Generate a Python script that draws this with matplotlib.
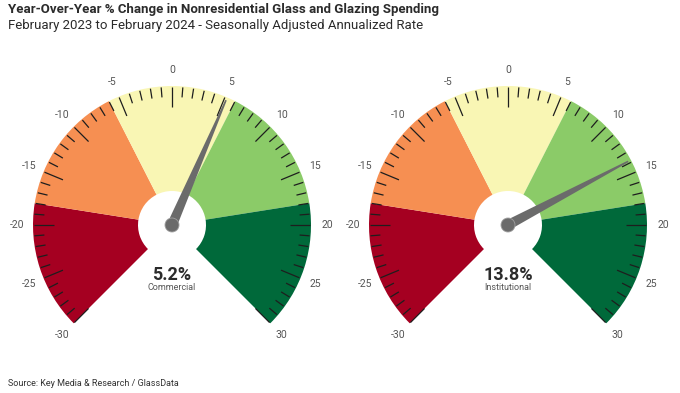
import numpy as np
import matplotlib
matplotlib.use("Agg")
import matplotlib.pyplot as plt
from matplotlib.patches import Wedge, Circle, Polygon

plt.rcParams['font.family'] = ['Liberation Sans Narrow', 'Roboto', 'DejaVu Sans']

# gauge data
BAND_EDGES = [-30, -18, -6, 6, 18, 30]
BAND_COLORS = ['#A50021', '#F68F52', '#F9F6B4', '#8BCB68', '#00693A']
TICK_LABELS = [-30, -25, -20, -15, -10, -5, 0, 5, 10, 15, 20, 25, 30]
SEGMENTS = ["Commercial", "Institutional"]
VALUES = [5.2, 13.8]

TITLE = "Year-Over-Year % Change in Nonresidential Glass and Glazing Spending"
SUBTITLE = "February 2023 to February 2024 - Seasonally Adjusted Annualized Rate"
SOURCE = "Source: Key Media & Research / GlassData"

W, H = 680, 393
CENTERS = [(172, 168), (508, 168)]
R_OUT = 139
R_IN = 34


def ang(v):
    # 0 at top, 4.5 degrees per point, -30..30 spans 270 degrees
    return 90 - 4.5 * v


def draw_gauge(ax, cx, cy, value, name):
    for i in range(len(BAND_COLORS)):
        a, b = BAND_EDGES[i], BAND_EDGES[i + 1]
        ax.add_patch(Wedge((cx, cy), R_OUT, ang(b), ang(a), width=R_OUT - R_IN,
                           facecolor=BAND_COLORS[i], edgecolor='none'))

    # ticks every point, longer every 5
    for v in range(TICK_LABELS[0], TICK_LABELS[-1] + 1):
        t = np.radians(ang(v))
        ln = 20 if v % 5 == 0 else 10
        r1, r2 = R_OUT - 1, R_OUT - 1 - ln
        ax.plot([cx + r1 * np.cos(t), cx + r2 * np.cos(t)],
                [cy + r1 * np.sin(t), cy + r2 * np.sin(t)],
                color='#1e1e1e', lw=0.9, solid_capstyle='butt')

    for v in TICK_LABELS:
        t = np.radians(ang(v))
        ax.text(cx + 155 * np.cos(t), cy + 155 * np.sin(t), str(v),
                ha='center', va='center', fontsize=7.5, color='#555555')

    # needle
    t = np.radians(ang(value))
    ux, uy = np.cos(t), np.sin(t)
    px, py = -uy, ux
    tip = 136
    pts = [(cx + 5 * px, cy + 5 * py),
           (cx + tip * ux + 0.8 * px, cy + tip * uy + 0.8 * py),
           (cx + tip * ux - 0.8 * px, cy + tip * uy - 0.8 * py),
           (cx - 5 * px, cy - 5 * py)]
    ax.add_patch(Polygon(pts, closed=True, facecolor='#6b6b6b', edgecolor='none', zorder=5))
    ax.add_patch(Circle((cx, cy), 7, facecolor='#6b6b6b', edgecolor='#a0a0a0', lw=0.6, zorder=6))

    ax.text(cx, cy - 50, f"{value}%", ha='center', va='center', fontsize=13,
            fontweight='bold', color='#2b2b2b')
    ax.text(cx, cy - 63, name, ha='center', va='center', fontsize=6.5, color='#555555')


fig = plt.figure(figsize=(W / 100, H / 100), dpi=100)
ax = fig.add_axes([0, 0, 1, 1])
ax.set_xlim(0, W)
ax.set_ylim(0, H)
ax.set_aspect('equal')
ax.axis('off')

for (cx, cy), val, name in zip(CENTERS, VALUES, SEGMENTS):
    draw_gauge(ax, cx, cy, val, name)

fig.text(8 / W, 1 - 10 / H, TITLE, ha='left', va='center', fontsize=9.5,
         fontweight='bold', color='#2b2b2b')
fig.text(8 / W, 1 - 25 / H, SUBTITLE, ha='left', va='center', fontsize=9.5,
         color='#2b2b2b')
fig.text(8 / W, 1 - 383 / H, SOURCE, ha='left', va='center', fontsize=6.5,
         color='#333333')

fig.savefig("out.png", dpi=100)
